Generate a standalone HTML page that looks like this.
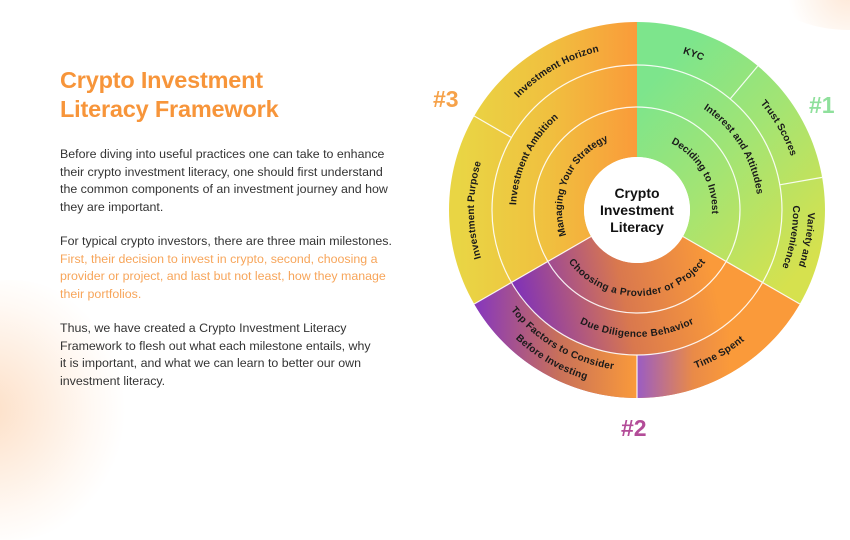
<!DOCTYPE html>
<html><head><meta charset="utf-8"><style>
html,body{margin:0;padding:0;}
body{width:850px;height:444px;overflow:hidden;background:#fff;position:relative;font-family:"Liberation Sans",sans-serif;}
.bg1{position:absolute;left:-110px;top:280px;width:240px;height:260px;border-radius:50%;background:radial-gradient(circle at 40% 50%,rgba(250,185,130,.45),rgba(255,225,200,.2) 55%,rgba(255,255,255,0) 72%);}
.bg2{position:absolute;left:770px;top:-50px;width:160px;height:80px;border-radius:50%;background:radial-gradient(circle,rgba(250,195,150,.4),rgba(255,255,255,0) 70%);}
h1{position:absolute;left:60px;top:66px;margin:0;font-size:23.5px;line-height:29px;font-weight:bold;color:#f7953a;letter-spacing:-0.2px;}
.p{position:absolute;left:60px;font-size:12.4px;line-height:17.6px;color:#333;width:370px;}
.o{color:#f7a55a;}
svg{position:absolute;left:0;top:0;}
</style></head><body>
<div class="bg1"></div><div class="bg2"></div>
<h1>Crypto Investment<br>Literacy Framework</h1>
<div class="p" style="top:146px">Before diving into useful practices one can take to enhance<br>their crypto investment literacy, one should first understand<br>the common components of an investment journey and how<br>they are important.</div>
<div class="p" style="top:233px">For typical crypto investors, there are three main milestones.<br><span class="o">First, their decision to invest in crypto, second, choosing a<br>provider or project, and last but not least, how they manage<br>their portfolios.</span></div>
<div class="p" style="top:320px">Thus, we have created a Crypto Investment Literacy<br>Framework to flesh out what each milestone entails, why<br>it is important, and what we can learn to better our own<br>investment literacy.</div>
<svg width="850" height="444" viewBox="0 0 850 444">
<defs>
<linearGradient id="g1" gradientUnits="userSpaceOnUse" x1="645" y1="90" x2="820" y2="250"><stop offset="0" stop-color="#7de58c"/><stop offset="0.45" stop-color="#a2e474"/><stop offset="1" stop-color="#d6e14e"/></linearGradient>
<linearGradient id="g2" gradientUnits="userSpaceOnUse" x1="510" y1="300" x2="710" y2="260"><stop offset="0" stop-color="#7a2dbf"/><stop offset="0.55" stop-color="#d9784e"/><stop offset="1" stop-color="#fa9a3a"/></linearGradient>
<linearGradient id="g3" gradientUnits="userSpaceOnUse" x1="460" y1="0" x2="637" y2="0"><stop offset="0" stop-color="#e9d544"/><stop offset="0.5" stop-color="#f0c03f"/><stop offset="1" stop-color="#fa9b3a"/></linearGradient>
<linearGradient id="gt" gradientUnits="userSpaceOnUse" x1="480" y1="0" x2="637" y2="0"><stop offset="0" stop-color="#8a3ab8"/><stop offset="0.5" stop-color="#c8705a"/><stop offset="1" stop-color="#fa9a3a"/></linearGradient>
<linearGradient id="gs" gradientUnits="userSpaceOnUse" x1="637" y1="0" x2="730" y2="0"><stop offset="0" stop-color="#9a5cc4"/><stop offset="0.6" stop-color="#e98a48"/><stop offset="1" stop-color="#fa9a3a"/></linearGradient>
<path id="t78" d="M563.7,183.3 A78,78 0 0 1 710.3,183.3"/>
<path id="t124" d="M520.5,167.6 A124,124 0 0 1 753.5,167.6"/>
<path id="t166" d="M481,153.2 A166,166 0 0 1 793,153.2"/>
<path id="t174" d="M473.5,150.5 A174,174 0 0 1 800.5,150.5"/>
<path id="t159" d="M487.6,155.6 A159,159 0 0 1 786.4,155.6"/>
<path id="b83" d="M559,238.4 A83,83 0 0 0 715,238.4"/>
<path id="b124" d="M520.5,252.4 A124,124 0 0 0 753.5,252.4"/>
<path id="b166" d="M481,266.8 A166,166 0 0 0 793,266.8"/>
<path id="b158" d="M488.5,264 A158,158 0 0 0 785.5,264"/>
<path id="b174" d="M473.5,269.5 A174,174 0 0 0 800.5,269.5"/>
</defs>
<path d="M637,22 A188,188 0 0 1 799.8,304 L682.9,236.5 A53,53 0 0 0 637,157 Z" fill="url(#g1)"/>
<path d="M799.8,304 A188,188 0 0 1 474.2,304 L591.1,236.5 A53,53 0 0 0 682.9,236.5 Z" fill="url(#g2)"/>
<path d="M474.2,304 A188,188 0 0 1 637,22 L637,157 A53,53 0 0 0 591.1,236.5 Z" fill="url(#g3)"/>
<path d="M637,398 A188,188 0 0 1 474.2,304 L511.4,282.5 A145,145 0 0 0 637,355 Z" fill="url(#gt)"/>
<path d="M799.8,304 A188,188 0 0 1 637,398 L637,355 A145,145 0 0 0 762.6,282.5 Z" fill="url(#gs)"/>
<g stroke="#fff" stroke-width="1.2" fill="none" opacity="0.9">
<circle cx="637" cy="210" r="103"/>
<circle cx="637" cy="210" r="145"/>
<line x1="682.9" y1="236.5" x2="799.8" y2="304"/>
<line x1="591.1" y1="236.5" x2="474.2" y2="304"/>
<line x1="730.2" y1="98.9" x2="757.8" y2="66"/>
<line x1="779.8" y1="184.8" x2="822.1" y2="177.4"/>
<line x1="637" y1="355" x2="637" y2="398"/>
<line x1="511.4" y1="137.5" x2="474.2" y2="116"/>
</g>
<circle cx="637" cy="210" r="53" fill="#fff"/>
<g font-family="Liberation Sans, sans-serif" font-weight="bold" font-size="14" fill="#111" text-anchor="middle">
<text x="637" y="198">Crypto</text>
<text x="637" y="215">Investment</text>
<text x="637" y="232">Literacy</text>
</g>
<g font-family="Liberation Sans, sans-serif" font-weight="bold" font-size="10" fill="#1a1a1a" text-anchor="middle" dominant-baseline="central" letter-spacing="0.2">
<text transform="rotate(20 637 210)"><textPath href="#t166" startOffset="50%">KYC</textPath></text>
<text transform="rotate(60 637 210)"><textPath href="#t166" startOffset="50%">Trust Scores</textPath></text>
<text transform="rotate(100 637 210)"><textPath href="#t174" startOffset="50%">Variety and</textPath></text>
<text transform="rotate(100 637 210)"><textPath href="#t159" startOffset="50%">Convenience</textPath></text>
<text transform="rotate(58 637 210)"><textPath href="#t124" startOffset="50%">Interest and Attitudes</textPath></text>
<text transform="rotate(60 637 210)"><textPath href="#t78" startOffset="50%">Deciding to Invest</textPath></text>
<text transform="rotate(-66 637 210)"><textPath href="#t78" startOffset="50%">Managing Your Strategy</textPath></text>
<text transform="rotate(-64 637 210)"><textPath href="#t124" startOffset="50%">Investment Ambition</textPath></text>
<text transform="rotate(-90 637 210)"><textPath href="#t166" startOffset="50%">Investment Purpose</textPath></text>
<text transform="rotate(-30 637 210)"><textPath href="#t166" startOffset="50%">Investment Horizon</textPath></text>
<text><textPath href="#b83" startOffset="50%">Choosing a Provider or Project</textPath></text>
<text><textPath href="#b124" startOffset="50%">Due Diligence Behavior</textPath></text>
<text transform="rotate(-30 637 210)"><textPath href="#b166" startOffset="50%">Time Spent</textPath></text>
<text transform="rotate(30 637 210)"><textPath href="#b158" startOffset="50%">Top Factors to Consider</textPath></text>
<text transform="rotate(30 637 210)"><textPath href="#b174" startOffset="50%">Before Investing</textPath></text>
</g>
<g font-family="Liberation Sans, sans-serif" font-weight="bold" font-size="23">
<text x="433" y="107" fill="#f6a24a">#3</text>
<text x="809" y="113" fill="#8fe09c">#1</text>
<text x="621" y="436" fill="#b34c98">#2</text>
</g>
</svg>
</body></html>
